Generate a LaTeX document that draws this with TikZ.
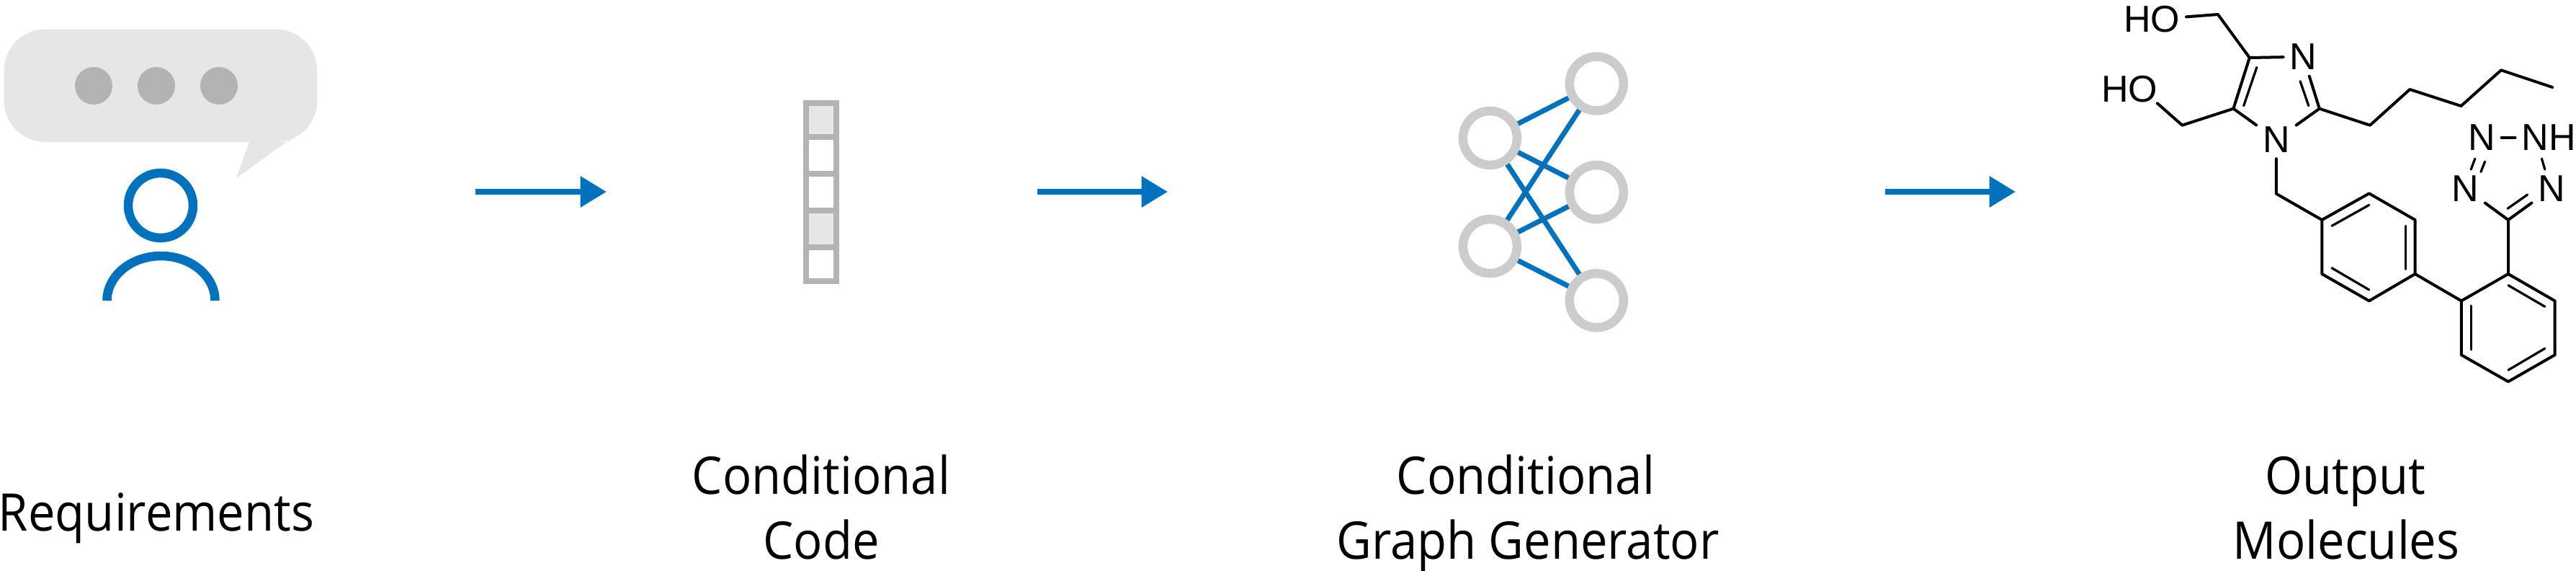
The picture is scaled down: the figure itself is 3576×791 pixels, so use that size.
\documentclass[tikz,border=0pt]{standalone}
\usepackage{fontspec}
\setmainfont[FakeStretch=0.93]{Open Sans}
\newfontfamily\atomfont{Liberation Sans}
\definecolor{flowblue}{HTML}{0071BC}
\definecolor{bubblegray}{HTML}{E6E6E6}
\definecolor{cellgray}{HTML}{B3B3B3}
\definecolor{ringgray}{HTML}{CCCCCC}
\usetikzlibrary{arrows.meta}
\begin{document}
\begin{tikzpicture}[
    x=0.2pt, y=-0.2pt,
    caption/.style={align=center, font=\fontsize{14.4}{18}\selectfont, inner sep=0pt, anchor=base},
    flow/.style={draw=flowblue, line width=1.72pt,
        -{Triangle[length=7.3pt, width=8.3pt]}},
    usermark/.style={draw=flowblue, line width=2.5pt},
    dot/.style={circle, fill=cellgray, draw=none, minimum size=10.4pt, inner sep=0pt},
    cell/.style={rectangle, draw=cellgray, line width=1.6pt, minimum width=8.4pt, inner sep=0pt},
    unit/.style={circle, draw=ringgray, fill=white, line width=2.5pt, minimum size=15pt, inner sep=0pt},
    wire/.style={draw=flowblue, line width=1.4pt},
    atom/.style={font=\atomfont\fontsize{10.4}{12}\selectfont, inner sep=1.6pt},
    bond/.style={draw=black, line width=0.8pt, line cap=round, line join=round},
    innerbond/.style={draw=black, line width=0.65pt, line cap=round}]

\useasboundingbox (0,0) rectangle (3576,791);

% speech bubble
\fill[bubblegray] (346,197) -- (328,247) -- (402,194) -- (402,197) -- cycle;
\node (bubble) [rectangle, fill=bubblegray, rounded corners=11.4pt, minimum width=86.9pt,
    minimum height=31.3pt, inner sep=0pt] at (223,118.8) {};
\node (dot1) [dot] at (130,119) {};
\node (dot2) [dot] at (217,119) {};
\node (dot3) [dot] at (304,119) {};

% user
\node (head) [circle, usermark, minimum size=18pt, inner sep=0pt] at (223,285) {};
\draw[usermark] (148.5,417) arc[start angle=180, end angle=360, x radius=75, y radius=62];

% code vector
\node (cell1) [cell, fill=bubblegray, minimum height=9.4pt] at (1140,166.5) {};
\node (cell2) [cell, minimum height=10.2pt] at (1140,215.5) {};
\node (cell3) [cell, minimum height=10.2pt] at (1140,266.5) {};
\node (cell4) [cell, fill=bubblegray, minimum height=10.2pt] at (1140,317.3) {};
\node (cell5) [cell, minimum height=9.4pt] at (1140,366) {};

% generator
\foreach \n/\y in {left1/191.4, left2/341.6}
    \coordinate (\n) at (2068.4,\y);
\foreach \n/\y in {right1/116, right2/266.5, right3/416.8}
    \coordinate (\n) at (2216.3,\y);
\foreach \a in {left1,left2}
    \foreach \b in {right1,right2,right3}
        \draw[wire] (\a) -- (\b);
\node (leftunit1) [unit] at (left1) {};
\node (leftunit2) [unit] at (left2) {};
\node (rightunit1) [unit] at (right1) {};
\node (rightunit2) [unit] at (right2) {};
\node (rightunit3) [unit] at (right3) {};

% flow arrows
\coordinate (a1s) at (660,266);
\coordinate (a1e) at (842,266);
\coordinate (a2s) at (1440,266);
\coordinate (a2e) at (1621,266);
\coordinate (a3s) at (2617,266);
\coordinate (a3e) at (2798,266);
\draw[flow] (a1s) -- (a1e);
\draw[flow] (a2s) -- (a2e);
\draw[flow] (a3s) -- (a3e);

% captions
\node (reqtext) [caption] at (217,736) {Requirements};
\node (codetext1) [caption] at (1140,685) {Conditional};
\node (codetext2) [caption] at (1140,775) {Code};
\node (gentext1) [caption] at (2118,685) {Conditional};
\node (gentext2) [caption] at (2121,775) {Graph Generator};
\node (moltext1) [caption] at (3256,685) {Output};
\node (moltext2) [caption] at (3257,775) {Molecules};

% molecule atoms
\node (ho1) [atom] at (2987,27) {HO};
\node (ho2) [atom] at (2956,123.3) {HO};
\node (ntop) [atom] at (3197.4,78.7) {N};
\node (nring) [atom] at (3159.9,193.3) {N};
\node (nul) [atom] at (3444.8,190.7) {N};
\node (nh) [atom] at (3538.2,190.7) {NH};
\node (nll) [atom] at (3422,261.3) {N};
\node (nlr) [atom] at (3542.2,261.3) {N};

% molecule vertices
\foreach \n/\x/\y in {c1/3078.9/20, c2/3122.8/80, c3/3100.4/150.7, c4/3219.8/150.7, c5/3029.3/173.7,
    ho2e/2994.8/143.3, d23a/3132.8/93.3, d23b/3114.7/146.7, d4na/3193.1/112.7, d4nb/3204.8/146.7,
    p1/3290/173.7, p2/3345.3/124, p3/3416.4/147, p4/3472/97.3, p5/3543.1/121,
    ch/3159.9/268.7, a1/3223.3/305, a2/3288.8/268.3, a3/3352.6/305, a4/3352.6/380, a5/3288.8/417.3, a6/3223.3/380,
    da1/3237/313.3, da2/3288.8/284.3, da3/3339.7/313.3, da4/3339.7/373.3, da5/3288.8/402, da6/3237/371.7,
    b1/3416.8/417.3, b2/3481.9/380, b3/3546.6/417.3, b4/3546.6/492.3, b5/3481.9/529.3, b6/3416.8/492.3,
    db1/3481.9/395.7, db2/3532.8/425.3, db3/3532.8/483.3, db4/3481.9/513.3, db5/3430.2/485, db6/3430.2/424,
    t0/3481.9/305, dt1/3481/289.3, dt2/3508.6/270, nn1/3435.8/220, nn2/3430.2/235, nn3/3449.6/224, nn4/3444/238.3,
    hn1/3528.4/220, hn2/3532.8/235}
    \coordinate (\n) at (\x,\y);

% molecule bonds
\draw[bond] (ho1) -- (c1) -- (c2) -- (ntop);
\draw[bond] (ho2e) -- (c5) -- (c3) -- (c2);
\draw[innerbond] (d23a) -- (d23b);
\draw[bond] (c3) -- (nring);
\draw[bond] (nring) -- (c4);
\draw[bond] (c4) -- (ntop);
\draw[innerbond] (d4na) -- (d4nb);
\draw[bond] (c4) -- (p1) -- (p2) -- (p3) -- (p4) -- (p5);
\draw[bond] (nring) -- (ch) -- (a1);
\draw[bond] (a1) -- (a2) -- (a3) -- (a4) -- (a5) -- (a6) -- cycle;
\draw[innerbond] (da1) -- (da2);
\draw[innerbond] (da3) -- (da4);
\draw[innerbond] (da5) -- (da6);
\draw[bond] (a4) -- (b1);
\draw[bond] (b1) -- (b2) -- (b3) -- (b4) -- (b5) -- (b6) -- cycle;
\draw[innerbond] (db1) -- (db2);
\draw[innerbond] (db3) -- (db4);
\draw[innerbond] (db5) -- (db6);
\draw[bond] (b2) -- (t0);
\draw[bond] (t0) -- (nll);
\draw[bond] (t0) -- (nlr);
\draw[innerbond] (dt1) -- (dt2);
\draw[bond] (nul) -- (nh);
\draw[innerbond] (nn1) -- (nn2);
\draw[innerbond] (nn3) -- (nn4);
\draw[innerbond] (hn1) -- (hn2);

\end{tikzpicture}
\end{document}
